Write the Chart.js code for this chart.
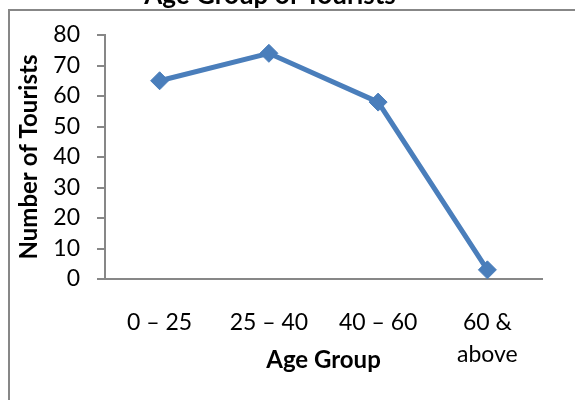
<!DOCTYPE html>
<html>
<head>
<meta charset="utf-8">
<script src="https://cdn.jsdelivr.net/npm/chart.js@4.4.1/dist/chart.umd.min.js"></script>
<style>
  html, body { margin: 0; padding: 0; background: #fff; overflow: hidden; width: 575px; height: 400px; }
  #frame { position: absolute; left: 8px; top: 9px; width: 700px; height: 500px; border: 2px solid #878787; }
  #wrap { position: absolute; left: -2px; top: -20px; width: 577px; height: 420px; }
</style>
</head>
<body>
<div id="frame"></div>
<div id="wrap"><canvas id="mycanvas" width="577" height="420"></canvas></div>
<script>
var ageGroups = ["0 – 25", "25 – 40", "40 – 60", ["60 &", "above"]];
var tourists = [65, 74, 58, 3];
var yTicks = [0, 10, 20, 30, 40, 50, 60, 70, 80];

var blue = "#4A7EBB";
var axisGrey = "#878787";

var ctx = document.getElementById("mycanvas");

var chart = new Chart(ctx, {
  type: 'line',
  data: {
    labels: ageGroups,
    datasets: [
      {
        label: "Number of Tourists",
        data: tourists,
        fill: false,
        tension: 0,
        borderColor: blue,
        backgroundColor: blue,
        borderWidth: 5,
        pointStyle: 'rectRot',
        pointRadius: 9,
        pointBorderWidth: 1,
        pointBackgroundColor: blue,
        pointBorderColor: blue
      }
    ]
  },
  options: {
    responsive: false,
    animation: false,
    layout: { padding: { left: 0, right: 33, top: 0, bottom: 0 } },
    plugins: {
      legend: { display: false },
      tooltip: { enabled: false },
      title: {
        display: true,
        text: "Age Group of Tourists",
        color: "#000",
        font: { family: "Lato", size: 26, weight: "bold", lineHeight: 1.2 },
        padding: { top: 0, bottom: 23.8 }
      }
    },
    scales: {
      x: {
        type: 'category',
        offset: true,
        grid: { display: false, drawTicks: false },
        border: { display: true, color: axisGrey, width: 2 },
        ticks: {
          color: "#000",
          padding: 28,
          maxRotation: 0,
          autoSkip: false,
          font: { family: "Lato", size: 23, lineHeight: 1.39 }
        },
        title: {
          display: true,
          text: "Age Group",
          color: "#000",
          font: { family: "Lato", size: 24, weight: "bold", lineHeight: 1.2 },
          padding: { top: 0, bottom: 25.6 }
        },
        afterFit: function(scale) { scale.height = 121; }
      },
      y: {
        min: 0,
        max: 80,
        afterBuildTicks: function(scale) {
          scale.ticks = yTicks.map(function(v) { return { value: v }; });
        },
        grid: {
          drawOnChartArea: false,
          drawTicks: true,
          tickLength: 8,
          color: axisGrey,
          lineWidth: 2
        },
        border: { display: true, color: axisGrey, width: 2 },
        ticks: {
          color: "#000",
          padding: 17,
          autoSkip: false,
          font: { family: "Lato", size: 23, lineHeight: 1.2 }
        },
        title: {
          display: true,
          text: "Number of Tourists",
          color: "#000",
          font: { family: "Lato", size: 24, weight: "bold", lineHeight: 1.2 },
          padding: { top: 17, bottom: 0 }
        },
        afterFit: function(scale) { scale.width = 107; }
      }
    }
  }
});
</script>
</body>
</html>
